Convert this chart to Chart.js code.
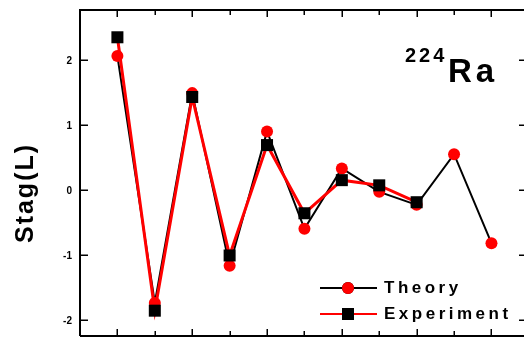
<!DOCTYPE html>
<html>
<head>
<meta charset="utf-8">
<script src="https://cdn.jsdelivr.net/npm/chart.js@4/dist/chart.umd.min.js"></script>
<style>
  html, body { margin: 0; padding: 0; background: #fff; overflow: hidden; }
  canvas { display: block; }
</style>
</head>
<body>
<canvas id="c" width="524" height="337"></canvas>
<script>
// Staggering Stag(L) of 224Ra, theory vs experiment
const spinL = [1, 2, 3, 4, 5, 6, 7, 8, 9, 10, 11];
const theory = [2.06, -1.74, 1.49, -1.17, 0.90, -0.60, 0.33, -0.03, -0.23, 0.55, -0.82];
const experiment = [2.35, -1.86, 1.43, -1.01, 0.69, -0.36, 0.15, 0.07, -0.19];
const yTicks = [-2, -1, 0, 1, 2];
const seriesNames = ['Theory', 'Experiment'];
const yTitle = 'Stag(L)';
const nucleusMass = '224';
const nucleusSymbol = 'Ra';

const FONT = '"Liberation Sans", Arial, sans-serif';

function toPoints(values) {
  return values.map((v, i) => ({ x: spinL[i], y: v }));
}

// Boxed frame with inward ticks, axis text, nucleus label and inset legend
const framePlugin = {
  id: 'frame',
  beforeDatasetsDraw(chart) {
    const { ctx, chartArea: a, scales: { x, y } } = chart;
    ctx.save();
    ctx.strokeStyle = '#000';
    ctx.lineWidth = 2;
    // frame: left, top, bottom (right edge sits at canvas border)
    ctx.beginPath();
    ctx.moveTo(a.left, a.bottom);
    ctx.lineTo(a.left, a.top);
    ctx.lineTo(a.right + 2, a.top);
    ctx.moveTo(a.left, a.bottom);
    ctx.lineTo(a.right + 2, a.bottom);
    ctx.stroke();

    ctx.lineWidth = 1.5;
    ctx.beginPath();
    spinL.forEach(v => {
      const px = Math.round(x.getPixelForValue(v)) + 0.25;
      const len = (v % 2 === 1) ? 7 : 5;
      ctx.moveTo(px, a.top);
      ctx.lineTo(px, a.top + len);
      ctx.moveTo(px, a.bottom);
      ctx.lineTo(px, a.bottom - len);
    });
    yTicks.forEach(v => {
      const py = Math.round(y.getPixelForValue(v)) + 0.25;
      ctx.moveTo(a.left, py);
      ctx.lineTo(a.left + 8, py);
      ctx.moveTo(a.right, py);
      ctx.lineTo(a.right - 5, py);
    });
    ctx.stroke();
    ctx.restore();
  },
  afterDraw(chart) {
    const { ctx, chartArea: a, scales: { y } } = chart;
    ctx.save();
    ctx.fillStyle = '#000';

    // y tick labels
    ctx.font = 'bold 10px ' + FONT;
    ctx.textAlign = 'right';
    ctx.textBaseline = 'middle';
    yTicks.forEach(v => {
      ctx.fillText(String(v), a.left - 8, y.getPixelForValue(v) + 1);
    });

    // y axis title
    ctx.save();
    ctx.translate(33, 193);
    ctx.rotate(-Math.PI / 2);
    ctx.font = 'bold 25px ' + FONT;
    ctx.letterSpacing = '2px';
    ctx.textAlign = 'center';
    ctx.textBaseline = 'alphabetic';
    ctx.fillText(yTitle, 0, 0);
    ctx.restore();

    // nucleus label
    ctx.textAlign = 'left';
    ctx.textBaseline = 'alphabetic';
    ctx.font = 'bold 20px ' + FONT;
    ctx.letterSpacing = '3px';
    ctx.fillText(nucleusMass, 405, 62);
    ctx.font = 'bold 33px ' + FONT;
    ctx.letterSpacing = '4px';
    ctx.fillText(nucleusSymbol, 448, 82);

    // legend
    const rows = [288, 314];
    chart.data.datasets.forEach((ds, i) => {
      const cy = rows[i];
      ctx.strokeStyle = ds.borderColor;
      ctx.lineWidth = 2;
      ctx.beginPath();
      ctx.moveTo(320, cy);
      ctx.lineTo(377, cy);
      ctx.stroke();
      Chart.helpers.drawPoint(ctx, {
        pointStyle: ds.pointStyle,
        radius: ds.pointRadius,
        rotation: 0,
        borderWidth: 0
      }, 348, cy);
      ctx.fillStyle = ds.pointBackgroundColor;
      ctx.fill();
      ctx.fillStyle = '#000';
      ctx.font = 'bold 17px ' + FONT;
      ctx.letterSpacing = '3.5px';
      ctx.fillText(ds.label, 384, cy + 5);
    });
    ctx.restore();
  }
};

new Chart(document.getElementById('c'), {
  type: 'line',
  data: {
    datasets: [
      {
        label: seriesNames[0],
        data: toPoints(theory),
        borderColor: '#000000',
        borderWidth: 2,
        pointStyle: 'circle',
        pointRadius: 6,
        pointBackgroundColor: '#ff0000',
        pointBorderColor: '#ff0000',
        pointBorderWidth: 0,
        tension: 0,
        order: 1
      },
      {
        label: seriesNames[1],
        data: toPoints(experiment),
        borderColor: '#ff0000',
        borderWidth: 3,
        pointStyle: 'rect',
        pointRadius: 8.5,
        pointBackgroundColor: '#000000',
        pointBorderColor: '#000000',
        pointBorderWidth: 0,
        tension: 0,
        order: 0
      }
    ]
  },
  options: {
    responsive: false,
    animation: false,
    events: [],
    layout: { autoPadding: false, padding: { left: 80, top: 10, right: 0, bottom: 1 } },
    plugins: { legend: { display: false }, tooltip: { enabled: false } },
    scales: {
      x: { type: 'linear', min: 0, max: 11.87, display: false },
      y: { type: 'linear', min: -2.25, max: 2.77, display: false }
    }
  },
  plugins: [framePlugin]
});
</script>
</body>
</html>
